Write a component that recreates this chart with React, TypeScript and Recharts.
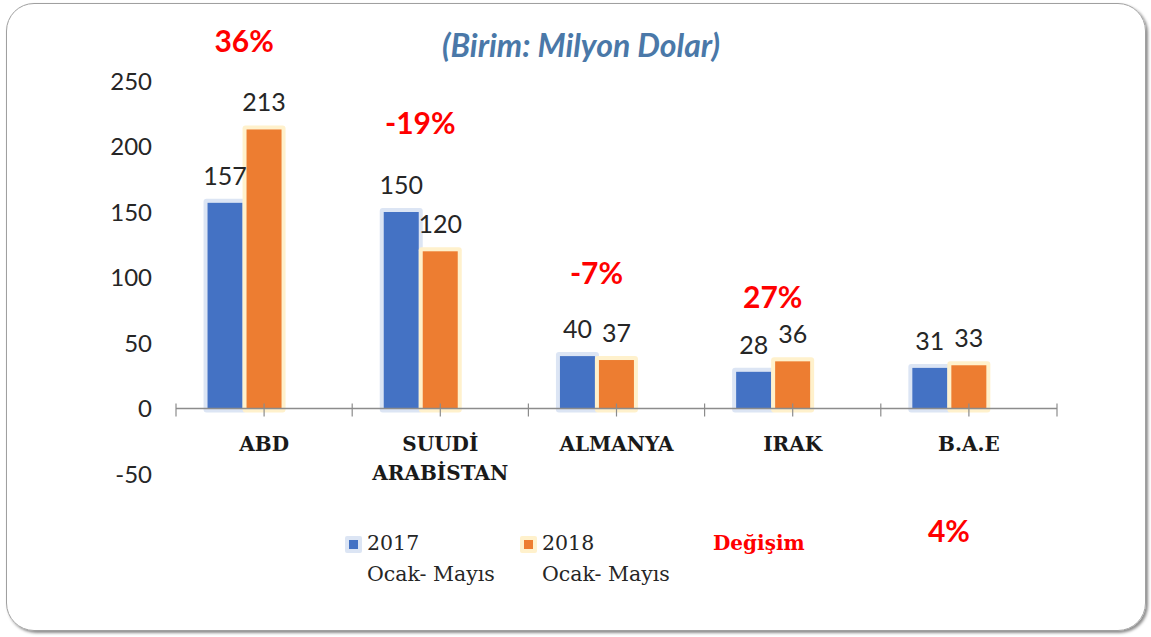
import React from 'react';
import {
  ComposedChart,
  Bar,
  XAxis,
  YAxis,
  LabelList,
  ReferenceLine,
  ReferenceDot,
  Legend,
} from 'recharts';

// ---------- data ----------
const categories = ['ABD', 'SUUDİ ARABİSTAN', 'ALMANYA', 'IRAK', 'B.A.E'];
const values2017 = [157, 150, 40, 28, 31];
const values2018 = [213, 120, 37, 36, 33];
const changePct = [0.36, -0.19, -0.07, 0.27, 0.04];
// where the (hand-placed) change labels sit, in value-axis units
const changeLabelAnchor = [281, 219, 104, 86, -93];
const yTicks = [-50, 0, 50, 100, 150, 200, 250];
const seriesNames = ['2017 Ocak- Mayıs', '2018 Ocak- Mayıs', 'Değişim'];
const titleText = '(Birim: Milyon Dolar)';

// ---------- layout ----------
const W = 1151;
const H = 637;
const M = { top: 81, right: 94, bottom: 133, left: 96 };
const YAXIS_W = 80;
const XAXIS_H = 30;
const PLOT_W = W - M.left - M.right - YAXIS_W;
const PLOT_H = H - M.top - M.bottom - XAXIS_H;
const Y_MIN = -50;
const Y_MAX = 250;
const ZERO_SHIFT = (PLOT_H * (0 - Y_MIN)) / (Y_MAX - Y_MIN);

const BLUE = '#4472C4';
const ORANGE = '#ED7D31';
const BLUE_GLOW = '#dce5f4';
const ORANGE_GLOW = '#fff1cc';
const AXIS_GRAY = '#8c8c8c';
const TEXT = '#262626';

const data = categories.map((name, i) => ({
  name,
  v2017: values2017[i],
  v2018: values2018[i],
  change: changePct[i],
}));

const fmtPct = (v: number) => `${Math.round(v * 100)}%`;

const GlowRect = (props: any) => {
  const { x, y, width, height, fill, glow } = props;
  if (width == null || height == null) return null;
  const g = 4;
  return (
    <g>
      <rect x={x - g} y={y - g} width={width + 2 * g} height={height + 2 * g} rx={3} fill={glow} />
      <rect x={x} y={y} width={width} height={height} fill={fill} />
    </g>
  );
};

const CategoryTick = (props: any) => {
  const { x, y, payload, index } = props;
  const zeroY = y - ZERO_SHIFT;
  const band = PLOT_W / categories.length;
  const lines = String(payload.value).split(' ');
  const tick = (tx: number, k: string) => (
    <line key={k} x1={tx} x2={tx} y1={zeroY - 5} y2={zeroY + 8} stroke={AXIS_GRAY} strokeWidth={1.2} />
  );
  return (
    <g>
      {tick(x, 'c')}
      {tick(x - band / 2, 'l')}
      {index === categories.length - 1 ? tick(x + band / 2, 'r') : null}
      <text
        textAnchor="middle"
        fontFamily="'DejaVu Serif', serif"
        fontWeight="bold"
        fontSize={20}
        fill="#1a1a1a"
      >
        {lines.map((l, i) => (
          <tspan key={i} x={x} y={zeroY + 42 + i * 29}>
            {l}
          </tspan>
        ))}
      </text>
    </g>
  );
};

const LegendContent = (props: any) => {
  const payload = props.payload || [];
  const widths = [175, 193, 200];
  return (
    <div style={{ display: 'flex', alignItems: 'flex-start' }}>
      {payload.map((p: any, i: number) => {
        const name = String(p.value);
        if (i === 2) {
          return (
            <div
              key={i}
              style={{
                width: widths[i],
                lineHeight: '31px',
                fontFamily: "'DejaVu Serif', serif",
                fontWeight: 'bold',
                fontSize: 20,
                color: '#ff0000',
              }}
            >
              {name}
            </div>
          );
        }
        const sp = name.indexOf(' ');
        const l1 = name.slice(0, sp);
        const l2 = name.slice(sp + 1);
        const glow = i === 0 ? BLUE_GLOW : ORANGE_GLOW;
        return (
          <div key={i} style={{ width: widths[i], display: 'flex', alignItems: 'flex-start' }}>
            <div
              style={{
                width: 17,
                height: 17,
                marginTop: 8,
                background: glow,
                borderRadius: 2,
                display: 'flex',
                alignItems: 'center',
                justifyContent: 'center',
                flexShrink: 0,
              }}
            >
              <div style={{ width: 9, height: 9, background: p.color }} />
            </div>
            <div
              style={{
                marginLeft: 5,
                lineHeight: '31px',
                fontFamily: "'DejaVu Serif', serif",
                fontSize: 20.5,
                color: TEXT,
                whiteSpace: 'nowrap',
              }}
            >
              <div>{l1}</div>
              <div>{l2}</div>
            </div>
          </div>
        );
      })}
    </div>
  );
};

export default function App() {
  return (
    <div style={{ position: 'absolute', left: 0, top: 0, width: W, height: H, background: '#fff' }}>
      <div
        style={{
          position: 'absolute',
          left: 6,
          top: 3,
          width: 1140,
          height: 628,
          border: '1.5px solid #a0a0a0',
          borderRadius: 28,
          boxShadow: '2px 2px 3px rgba(0,0,0,0.45)',
          boxSizing: 'border-box',
        }}
      />
      <div
        style={{
          position: 'absolute',
          left: 0,
          top: 26,
          width: 1162,
          textAlign: 'center',
          fontFamily: 'Lato, sans-serif',
          fontStyle: 'italic',
          fontWeight: 'bold',
          fontSize: 32,
          color: '#4a78a8',
          lineHeight: '38px',
        }}
      >
        {titleText}
      </div>
      <div style={{ position: 'absolute', left: 0, top: 0 }}>
        <ComposedChart
          width={W}
          height={H}
          data={data}
          margin={M}
          barCategoryGap="17.9%"
          barGap={4}
        >
          <XAxis
            dataKey="name"
            height={XAXIS_H}
            axisLine={false}
            tickLine={false}
            tickSize={0}
            tickMargin={0}
            interval={0}
            tick={<CategoryTick />}
          />
          <YAxis
            width={YAXIS_W}
            domain={[Y_MIN, Y_MAX]}
            ticks={yTicks}
            axisLine={false}
            tickLine={false}
            tickSize={0}
            tickMargin={24}
            tick={{ fontFamily: 'Lato, sans-serif', fontSize: 24, fill: TEXT }}
          />
          <ReferenceLine y={0} stroke={AXIS_GRAY} strokeWidth={1.5} />
          <Legend
            layout="horizontal"
            verticalAlign="middle"
            align="center"
            wrapperStyle={{ left: 345, top: 528, width: 600 }}
            content={<LegendContent />}
          />
          <Bar
            dataKey="v2017"
            name={seriesNames[0]}
            fill={BLUE}
            isAnimationActive={false}
            shape={(p: any) => <GlowRect {...p} glow={BLUE_GLOW} />}
          >
            <LabelList
              dataKey="v2017"
              position="top"
              offset={18}
              style={{ fontFamily: 'Lato, sans-serif', fontSize: 25, fill: TEXT }}
            />
          </Bar>
          <Bar
            dataKey="v2018"
            name={seriesNames[1]}
            fill={ORANGE}
            isAnimationActive={false}
            shape={(p: any) => <GlowRect {...p} glow={ORANGE_GLOW} />}
          >
            <LabelList
              dataKey="v2018"
              position="top"
              offset={18}
              style={{ fontFamily: 'Lato, sans-serif', fontSize: 25, fill: TEXT }}
            />
          </Bar>
          <Bar dataKey="change" name={seriesNames[2]} fill="transparent" isAnimationActive={false} />
          {categories.map((c, i) => (
            <ReferenceDot
              key={c}
              x={c}
              y={changeLabelAnchor[i]}
              r={1}
              fill="none"
              stroke="none"
              ifOverflow="visible"
              label={{
                content: (lp: any) => {
                  const vb = lp.viewBox || {};
                  return (
                    <text
                      x={vb.x + vb.width / 2 - 20}
                      y={vb.y + vb.height / 2}
                      dominantBaseline="central"
                      textAnchor="middle"
                      fontFamily="Lato, sans-serif"
                      fontWeight="bold"
                      fontSize={30}
                      fill="#ff0000"
                    >
                      {fmtPct(changePct[i])}
                    </text>
                  );
                },
              }}
            />
          ))}
        </ComposedChart>
      </div>
    </div>
  );
}
